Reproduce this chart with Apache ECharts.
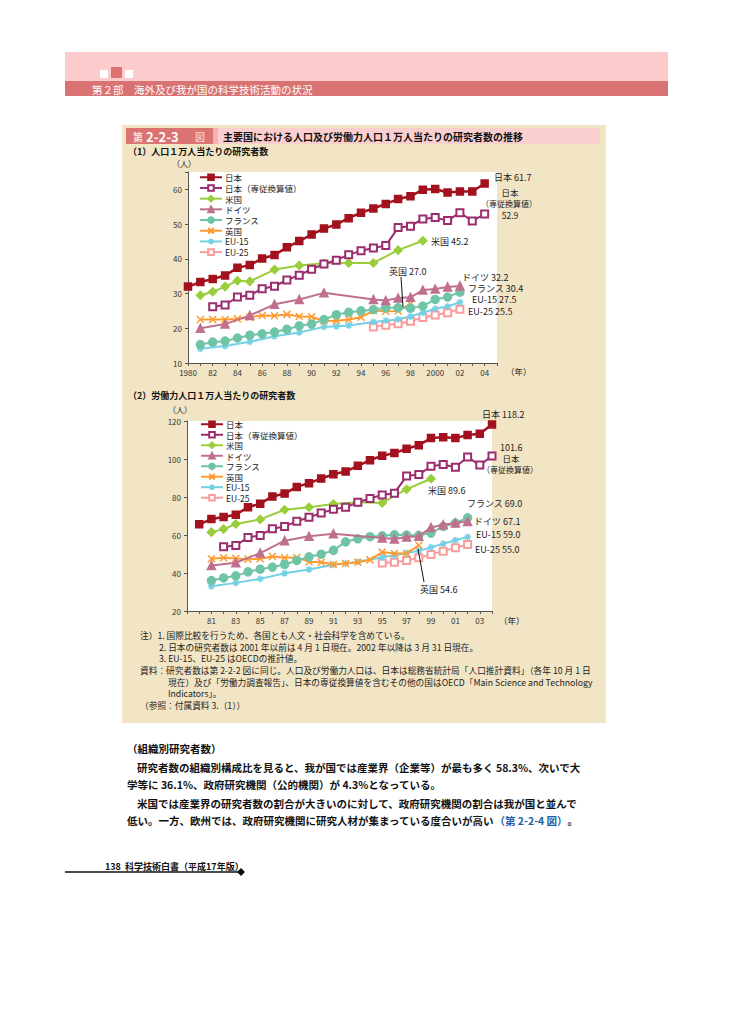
<!DOCTYPE html>
<html><head><meta charset="utf-8">
<script src="https://cdn.jsdelivr.net/npm/echarts@6/dist/echarts.min.js"></script>
<style>html,body{margin:0;padding:0;background:#fff}#c{width:729px;height:1032px}</style>
</head><body><div id="c"></div>
<script>
// ---------- DATA ----------
const seriesNames = ['日本','日本（専従換算値）','米国','ドイツ','フランス','英国','EU-15','EU-25'];
const xTicks1 = [1980,1982,1984,1986,1988,1990,1992,1994,1996,1998,2000,2002,2004];
const xTicks2 = [1981,1983,1985,1987,1989,1991,1993,1995,1997,1999,2001,2003];
const yTicks1 = [10,20,30,40,50,60];
const yTicks2 = [20,40,60,80,100,120];

// (1) per 10,000 population
const yrsJp1 = [1980,1981,1982,1983,1984,1985,1986,1987,1988,1989,1990,1991,1992,1993,1994,1995,1996,1997,1998,1999,2000,2001,2002,2003,2004];
const jp1 = [32.0,33.3,34.2,35.2,37.4,38.2,40.1,41.1,43.3,45.1,47.0,48.7,49.9,51.7,53.3,54.5,55.8,57.2,58.0,59.9,60.1,59.1,59.4,59.4,61.7];
const yrsFte1 = [1982,1983,1984,1985,1986,1987,1988,1989,1990,1991,1992,1993,1994,1995,1996,1997,1998,1999,2000,2001,2002,2003,2004];
const fte1 = [26.2,26.7,29.0,29.5,31.4,32.1,33.9,35.3,37.0,38.5,39.6,41.2,42.3,43.1,43.8,49.0,49.4,51.5,51.9,51.0,53.3,50.9,52.9];
const yrsUs1 = [1981,1982,1983,1984,1985,1987,1989,1991,1993,1995,1997,1999];
const us1 = [29.5,30.5,32.0,33.7,33.5,36.9,38.1,38.7,38.8,38.8,42.5,45.2];
const yrsDe1 = [1981,1983,1985,1987,1989,1991,1995,1996,1997,1998,1999,2000,2001,2002];
const de1 = [20.0,21.2,23.7,26.9,28.3,30.2,28.3,28.0,28.7,28.9,31.0,31.3,31.9,32.2];
const yrsFr1 = [1981,1982,1983,1984,1985,1986,1987,1988,1989,1990,1991,1992,1993,1994,1995,1996,1997,1998,1999,2000,2001,2002];
const fr1 = [15.3,16.0,16.3,17.2,18.0,18.4,18.9,19.7,20.7,21.2,22.5,23.9,24.6,25.0,25.4,25.9,25.9,25.8,26.4,28.3,29.0,30.4];
const yrsUk1 = [1981,1982,1983,1984,1985,1986,1987,1988,1989,1990,1991,1992,1993,1994,1995,1996,1997,1998];
const uk1 = [22.5,22.5,22.5,22.7,23.2,23.7,23.6,24.0,23.4,23.3,22.1,22.2,22.5,23.2,25.1,24.9,25.0,27.0];
const yrsEu15_1 = [1981,1983,1985,1987,1989,1991,1992,1993,1995,1996,1997,1998,1999,2000,2001,2002];
const eu15_1 = [14.1,14.9,16.1,17.7,18.8,20.4,20.6,20.8,21.8,22.2,22.6,23.4,24.5,25.6,26.3,27.5];
const yrsEu25_1 = [1995,1996,1997,1998,1999,2000,2001,2002];
const eu25_1 = [20.4,20.9,21.3,22.0,23.1,23.8,24.5,25.5];

// (2) per 10,000 labour force
const yrsJp2 = [1980,1981,1982,1983,1984,1985,1986,1987,1988,1989,1990,1991,1992,1993,1994,1995,1996,1997,1998,1999,2000,2001,2002,2003,2004];
const jp2 = [65.6,68.4,69.5,70.7,74.6,76.5,80.3,81.8,85.3,87.3,89.7,92.0,93.4,96.4,99.4,101.7,103.1,105.4,107.3,111.0,111.4,111.0,112.6,113.3,118.2];
const yrsFte2 = [1982,1983,1984,1985,1986,1987,1988,1989,1990,1991,1992,1993,1994,1995,1996,1997,1998,1999,2000,2001,2002,2003,2004];
const fte2 = [53.8,54.5,58.7,59.8,63.3,64.5,67.2,69.3,71.6,73.5,74.6,77.2,79.2,81.1,82.0,91.0,91.8,96.2,97.1,95.7,101.0,96.8,101.6];
const yrsUs2 = [1981,1982,1983,1985,1987,1989,1991,1993,1995,1997,1999];
const us2 = [61.5,63.1,65.8,68.2,73.3,74.6,76.3,77.2,76.9,84.1,89.6];
const yrsDe2 = [1981,1983,1985,1987,1989,1991,1995,1996,1997,1998,1999,2000,2001,2002];
const de2 = [44.0,45.4,50.5,57.0,59.3,60.7,58.4,57.9,58.9,59.3,64.0,65.4,66.3,67.1];
const yrsFr2 = [1981,1982,1983,1984,1985,1986,1987,1988,1989,1990,1991,1992,1993,1994,1995,1996,1997,1998,1999,2000,2001,2002];
const fr2 = [36.0,37.4,38.5,40.6,42.0,43.1,44.5,46.6,48.5,49.9,51.9,56.4,58.0,59.1,59.6,60.1,60.0,59.8,61.0,64.5,66.3,69.0];
const yrsUk2 = [1981,1982,1983,1984,1985,1986,1987,1988,1989,1990,1991,1992,1993,1994,1995,1996,1997,1998];
const uk2 = [47.5,48.0,47.6,47.3,47.5,48.7,48.0,48.2,45.9,45.7,44.5,45.0,45.7,46.9,51.0,50.3,50.3,54.6];
const yrsEu15_2 = [1981,1983,1985,1987,1989,1991,1992,1993,1995,1996,1997,1998,1999,2000,2001,2002];
const eu15_2 = [33.0,34.8,36.9,39.9,41.8,44.3,45.0,45.9,48.3,49.4,50.5,51.7,53.5,55.4,57.2,59.0];
const yrsEu25_2 = [1995,1996,1997,1998,1999,2000,2001,2002];
const eu25_2 = [45.2,45.7,46.6,48.0,49.8,51.5,53.3,55.0];

// ---------- STYLE ----------
const FONT = "'Noto Sans CJK JP', 'Noto Sans', sans-serif";
const X_PATH = 'path://M0,0L10,10M0,10L10,0';
const AST_PATH = 'path://M0,5L10,5M5,0L5,10M1.5,1.5L8.5,8.5M1.5,8.5L8.5,1.5';
const styles = [
  {color:'#a3111e', symbol:'rect', size:7, width:2.5},
  {color:'#9b2d6e', symbol:'emptyRect', size:7, width:2},
  {color:'#9acd3c', symbol:'diamond', size:8, width:2},
  {color:'#c0708f', symbol:'triangle', size:8, width:2},
  {color:'#6fc4a6', symbol:'circle', size:8, width:2},
  {color:'#ff9a30', symbol:X_PATH, size:7, width:2},
  {color:'#74d0e4', symbol:AST_PATH, size:7, width:2},
  {color:'#fa9c9c', symbol:'emptyRect', size:7, width:2}
];

function pairs(xs, vs){ return xs.map((x,i)=>[x, vs[i]]); }
function mkSeries(idx, xs, vs, gi){
  const s = styles[idx];
  return {
    type:'line', name:seriesNames[idx], xAxisIndex:gi, yAxisIndex:gi,
    data:pairs(xs,vs), symbol:s.symbol, symbolSize:s.size, showAllSymbol:true,
    lineStyle:{color:s.color, width:s.width},
    itemStyle:{color:s.color, borderColor:s.color, borderWidth:1.5},
    emphasis:{disabled:true}, animation:false, z:10-idx
  };
}
const last = a => a[a.length-1].toFixed(1);

function T(x, y, s, o){
  o = o || {};
  return {type:'text', x:x, y:y, z:100, silent:true,
    style:Object.assign({text:s, fontSize:9, fontFamily:FONT, fill:'#222',
      align:'left', textAlign:'left', verticalAlign:'middle', textVerticalAlign:'middle'}, o)};
}
function R(x,y,w,h,fill,z){ return {type:'rect', shape:{x:x,y:y,width:w,height:h}, style:{fill:fill}, z:(z===undefined?-100:z), silent:true}; }
function L(x1,y1,x2,y2,c,w){ return {type:'line', shape:{x1:x1,y1:y1,x2:x2,y2:y2}, style:{stroke:c||'#000', lineWidth:w||1}, z:100, silent:true}; }

const NOTE = {fontSize:8.7};
const BODY = {fontSize:10.5, fontWeight:'bold', fill:'#111'};

const graphics = [
  // header
  R(65,52,603,29,'#fccbcb'),
  R(100,70,8,8,'#ffffff',-90), R(111,67,11,11,'#dc7272',-90), R(125,70,8,8,'#ffffff',-90),
  R(65,81,603,15,'#d97272'),
  T(92,89,'第２部　海外及び我が国の科学技術活動の状況',{fill:'#ffffff', fontSize:10.5}),
  // figure box
  R(122,125,484,598,'#f2e5c5'),
  R(126,128,87,16,'#dc7373',-90),
  R(213,128,5,16,'#f6b0b0',-90),
  R(218,128,382,16,'#fccfcf',-90),
  T(133,136.5,'第',{fill:'#fde0e0', fontSize:10, fontWeight:'bold'}),
  T(146,136,'2-2-3',{fill:'#ffffff', fontSize:13, fontWeight:'bold'}),
  T(195,136.5,'図',{fill:'#fde0e0', fontSize:10}),
  T(223,136,'主要国における人口及び労働力人口１万人当たりの研究者数の推移',{fontSize:10, fontWeight:'bold', fill:'#111'}),
  T(128,151,'（1）人口１万人当たりの研究者数',{fontSize:9, fontWeight:'bold', fill:'#111'}),
  T(128,395,'（2）労働力人口１万人当たりの研究者数',{fontSize:9, fontWeight:'bold', fill:'#111'}),
  T(172,163,'（人）',{fontSize:8}),
  T(168,409,'（人）',{fontSize:8}),
  T(506,371,'（年）',{fontSize:8.5}),
  T(499,620,'（年）',{fontSize:8.5}),
  // chart 1 annotations
  T(494,177,'日本 '+last(jp1)),
  T(510,192,'日本',{align:'center', textAlign:'center', fontSize:8.5}),
  T(509,203.5,'（専従換算値）',{align:'center', textAlign:'center', fontSize:8}),
  T(510,214.5,last(fte1),{align:'center', textAlign:'center', fontSize:8.5}),
  T(431,241,'米国 '+last(us1)),
  T(389,271,'英国 '+last(uk1)),
  L(401,277,403,307,'#111',1),
  T(462,277,'ドイツ '+last(de1)),
  T(468,288,'フランス '+last(fr1)),
  T(472,299,'EU-15 '+last(eu15_1)),
  T(468,311,'EU-25 '+last(eu25_1)),
  // chart 2 annotations
  T(482,414,'日本 '+last(jp2)),
  T(500,447,last(fte2)),
  T(511,458,'日本',{align:'center', textAlign:'center', fontSize:8.5}),
  T(510,469,'（専従換算値）',{align:'center', textAlign:'center', fontSize:8}),
  T(428,490,'米国 '+last(us2)),
  T(467,503,'フランス '+last(fr2)),
  T(474,521,'ドイツ '+last(de2)),
  T(476,534,'EU-15 '+last(eu15_2)),
  T(475,549,'EU-25 '+last(eu25_2)),
  T(420,589,'英国 '+last(uk2)),
  L(418,549,424,582,'#111',1),
  // notes
  T(140,635,'注）1. 国際比較を行うため、各国とも人文・社会科学を含めている。',NOTE),
  T(159,647,'2. 日本の研究者数は 2001 年以前は 4 月 1 日現在。2002 年以降は 3 月 31 日現在。',NOTE),
  T(159,658.5,'3. EU-15、EU-25 はOECDの推計値。',NOTE),
  T(140,670,'資料：研究者数は第 2-2-2 図に同じ。人口及び労働力人口は、日本は総務省統計局「人口推計資料」（各年 10 月 1 日',NOTE),
  T(168,682,'現在）及び「労働力調査報告」、日本の専従換算値を含むその他の国はOECD「Main Science and Technology',NOTE),
  T(168,693.5,'Indicators」。',NOTE),
  T(140,705,'（参照：付属資料 3.（1））',NOTE),
  // body text
  T(127,748,'（組織別研究者数）',BODY),
  T(137,767,'研究者数の組織別構成比を見ると、我が国では産業界（企業等）が最も多く 58.3%、次いで大',BODY),
  T(127,784,'学等に 36.1%、政府研究機関（公的機関）が 4.3%となっている。',BODY),
  T(137,803,'米国では産業界の研究者数の割合が大きいのに対して、政府研究機関の割合は我が国と並んで',BODY),
  {type:'text', x:127, y:820, z:100, silent:true, style:{
    text:'{a|低い。一方、欧州では、政府研究機関に研究人材が集まっている度合いが高い}{b|（第 2-2-4 図）}{a|。}',
    fontFamily:FONT, verticalAlign:'middle', textVerticalAlign:'middle',
    rich:{a:{fontSize:10.5, fontWeight:'bold', fill:'#111', color:'#111', fontFamily:FONT},
          b:{fontSize:10.5, fontWeight:'bold', fill:'#1f5fa8', color:'#1f5fa8', fontFamily:FONT}}}},
  // footer
  T(105,866,'138  科学技術白書（平成17年版）',{fontSize:9, fontWeight:'bold', fill:'#111'}),
  L(65,872,240,872,'#111',1.5),
  {type:'polygon', shape:{points:[[241,868],[245,872],[241,876],[237,872]]}, style:{fill:'#111'}, z:100, silent:true}
];

function xFmt1(v){ if (xTicks1.indexOf(v) < 0) return ''; return (v===1980||v===2000) ? String(v) : String(v).slice(2); }
function xFmt2(v){ if (xTicks2.indexOf(v) < 0) return ''; return String(v).slice(2); }
function yFmt(ticks){ return v => ticks.indexOf(v) >= 0 ? String(v) : ''; }

const axisBase = {
  axisLine:{show:true, lineStyle:{color:'#555', width:1}},
  axisTick:{show:true, length:3, lineStyle:{color:'#555'}},
  splitLine:{show:false}
};

const option = {
  animation:false,
  textStyle:{fontFamily:FONT},
  graphic:graphics,
  grid:[
    {left:188, top:172, width:309, height:191, show:true, backgroundColor:'#ffffff', borderWidth:0, z:-50},
    {left:187, top:421, width:305, height:190, show:true, backgroundColor:'#ffffff', borderWidth:0, z:-50}
  ],
  xAxis:[
    Object.assign({type:'value', gridIndex:0, min:1980, max:2005, interval:1,
      axisLabel:{formatter:xFmt1, fontSize:8, color:'#333', margin:5, showMinLabel:true, showMaxLabel:true}}, axisBase),
    Object.assign({type:'value', gridIndex:1, min:1979, max:2004, interval:1,
      axisLabel:{formatter:xFmt2, fontSize:8, color:'#333', margin:5, showMinLabel:true, showMaxLabel:true}}, axisBase)
  ],
  yAxis:[
    Object.assign({type:'value', gridIndex:0, min:10, max:65, interval:10,
      axisLabel:{formatter:yFmt(yTicks1), fontSize:8, color:'#333', margin:6}}, axisBase),
    Object.assign({type:'value', gridIndex:1, min:20, max:120, interval:20,
      axisLabel:{formatter:yFmt(yTicks2), fontSize:8, color:'#333', margin:6}}, axisBase)
  ],
  legend:[
    {orient:'vertical', left:199, top:173, padding:0, itemGap:2.2, itemWidth:22, itemHeight:7,
      data:seriesNames, selectedMode:false, textStyle:{fontSize:8.5, color:'#222', lineHeight:8.5, padding:[0,0,0,-2]}},
    {orient:'vertical', left:200, top:420, padding:0, itemGap:2, itemWidth:22, itemHeight:7,
      data:seriesNames, selectedMode:false, textStyle:{fontSize:8.5, color:'#222', lineHeight:8.5, padding:[0,0,0,-2]}}
  ],
  series:[
    mkSeries(0, yrsJp1, jp1, 0),
    mkSeries(1, yrsFte1, fte1, 0),
    mkSeries(2, yrsUs1, us1, 0),
    mkSeries(3, yrsDe1, de1, 0),
    mkSeries(4, yrsFr1, fr1, 0),
    mkSeries(5, yrsUk1, uk1, 0),
    mkSeries(6, yrsEu15_1, eu15_1, 0),
    mkSeries(7, yrsEu25_1, eu25_1, 0),
    mkSeries(0, yrsJp2, jp2, 1),
    mkSeries(1, yrsFte2, fte2, 1),
    mkSeries(2, yrsUs2, us2, 1),
    mkSeries(3, yrsDe2, de2, 1),
    mkSeries(4, yrsFr2, fr2, 1),
    mkSeries(5, yrsUk2, uk2, 1),
    mkSeries(6, yrsEu15_2, eu15_2, 1),
    mkSeries(7, yrsEu25_2, eu25_2, 1)
  ]
};
const chart = echarts.init(document.getElementById('c'), null, {renderer:'svg', width:729, height:1032});
chart.setOption(option);
</script>
</body></html>
